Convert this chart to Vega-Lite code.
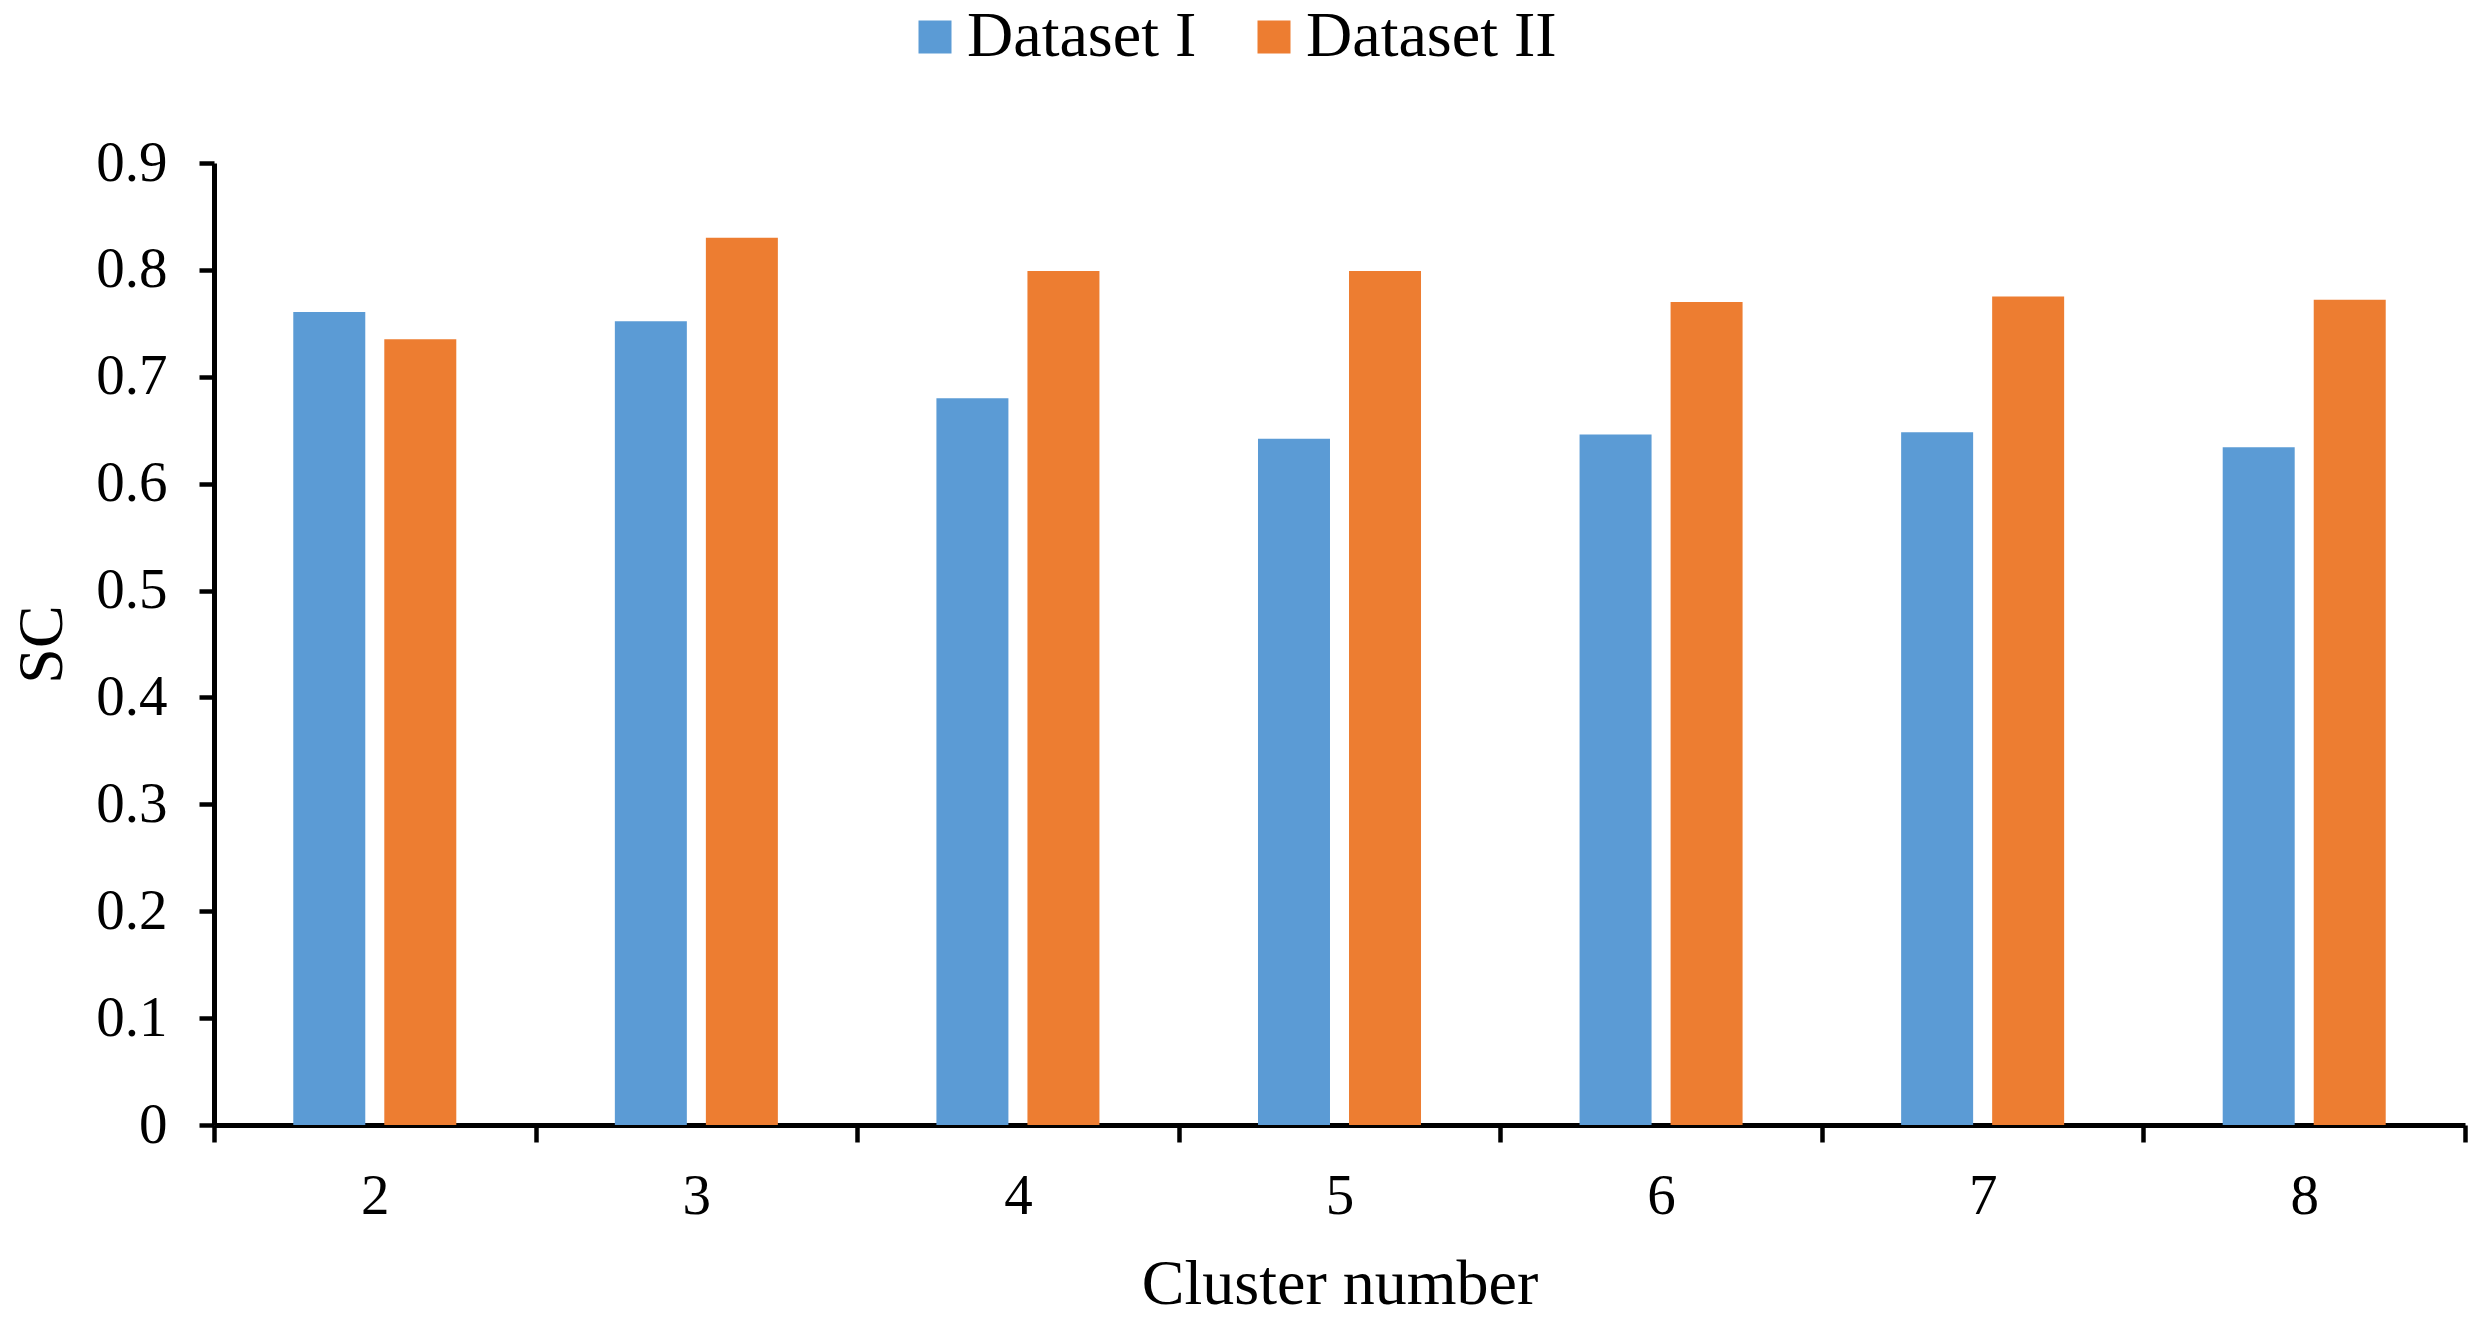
{
  "$schema": "https://vega.github.io/schema/vega-lite/v6.json",
  "autosize": "none",
  "width": 2251,
  "height": 962,
  "padding": {"left": 214, "top": 163, "right": 14, "bottom": 194},
  "background": "white",
  "config": {
    "font": "Liberation Serif",
    "view": {"stroke": null}
  },
  "data": {
    "values": [
      {"cluster": "2", "dataset": "Dataset I", "sc": 0.7605},
      {"cluster": "2", "dataset": "Dataset II", "sc": 0.735},
      {"cluster": "3", "dataset": "Dataset I", "sc": 0.752},
      {"cluster": "3", "dataset": "Dataset II", "sc": 0.830},
      {"cluster": "4", "dataset": "Dataset I", "sc": 0.680},
      {"cluster": "4", "dataset": "Dataset II", "sc": 0.799},
      {"cluster": "5", "dataset": "Dataset I", "sc": 0.642},
      {"cluster": "5", "dataset": "Dataset II", "sc": 0.799},
      {"cluster": "6", "dataset": "Dataset I", "sc": 0.646},
      {"cluster": "6", "dataset": "Dataset II", "sc": 0.770},
      {"cluster": "7", "dataset": "Dataset I", "sc": 0.648},
      {"cluster": "7", "dataset": "Dataset II", "sc": 0.775},
      {"cluster": "8", "dataset": "Dataset I", "sc": 0.634},
      {"cluster": "8", "dataset": "Dataset II", "sc": 0.772}
    ]
  },
  "mark": {"type": "bar"},
  "encoding": {
    "x": {
      "field": "cluster",
      "type": "nominal",
      "sort": ["2", "3", "4", "5", "6", "7", "8"],
      "scale": {"paddingInner": 0, "paddingOuter": 0},
      "axis": {
        "title": "Cluster number",
        "titleFontSize": 64,
        "titleFontWeight": "normal",
        "titleColor": "black",
        "titleBaseline": "alphabetic",
        "titleY": 178,
        "labelAngle": 0,
        "labelFontSize": 57,
        "labelColor": "black",
        "labelBaseline": "alphabetic",
        "labelPadding": 71,
        "tickBand": "extent",
        "tickSize": 17,
        "tickWidth": 4.5,
        "tickColor": "black",
        "domainColor": "black",
        "domainWidth": 5,
        "grid": false
      }
    },
    "xOffset": {
      "field": "dataset",
      "type": "nominal",
      "scale": {"paddingInner": 0.209, "paddingOuter": 0.871}
    },
    "y": {
      "field": "sc",
      "type": "quantitative",
      "scale": {"domain": [0, 0.9], "nice": false},
      "axis": {
        "title": "SC",
        "titleFontSize": 64,
        "titleFontWeight": "normal",
        "titleColor": "black",
        "titleBaseline": "alphabetic",
        "titleX": -153,
        "values": [0, 0.1, 0.2, 0.3, 0.4, 0.5, 0.6, 0.7, 0.8, 0.9],
        "format": ".1~f",
        "labelFontSize": 57,
        "labelColor": "black",
        "labelPadding": 32,
        "tickSize": 15,
        "tickWidth": 4.5,
        "tickColor": "black",
        "domainColor": "black",
        "domainWidth": 5,
        "grid": false
      }
    },
    "color": {
      "field": "dataset",
      "type": "nominal",
      "scale": {"domain": ["Dataset I", "Dataset II"], "range": ["#5B9BD5", "#ED7D31"]},
      "legend": {
        "title": null,
        "orient": "none",
        "direction": "horizontal",
        "legendX": 689,
        "legendY": -158,
        "padding": 0,
        "symbolType": "square",
        "symbolSize": 1089,
        "symbolStrokeWidth": 0,
        "labelFontSize": 64,
        "labelColor": "black",
        "labelOffset": 0,
        "columnPadding": 45,
        "labelLimit": 0
      }
    }
  }
}
